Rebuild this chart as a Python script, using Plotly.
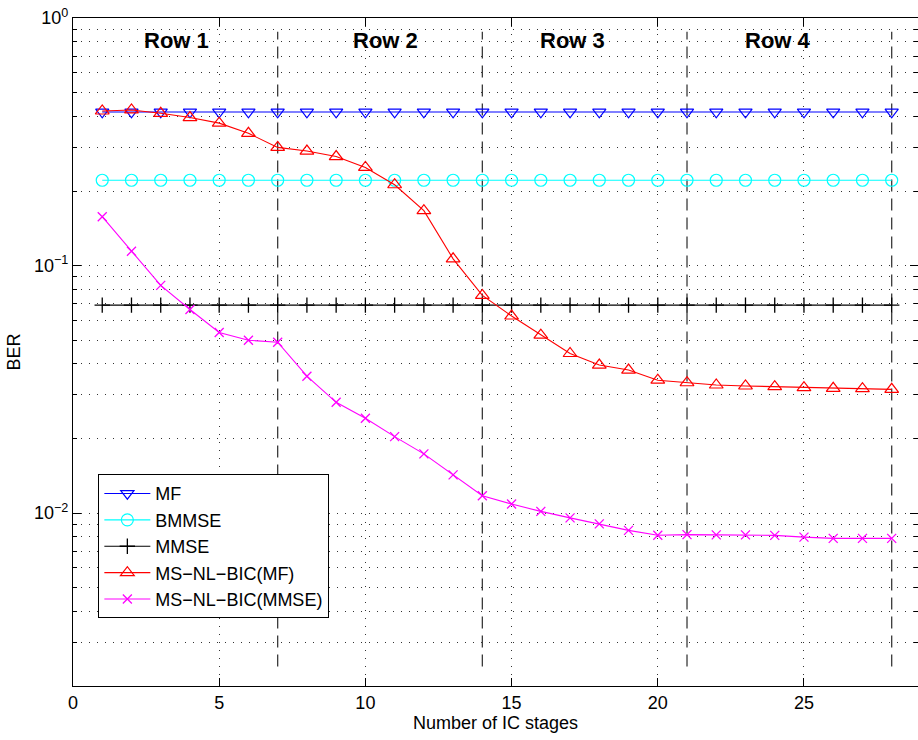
import math
import plotly.graph_objects as go

# ---------------- data ----------------
stages = [1, 2, 3, 4, 5, 6, 7, 8, 9, 10, 11, 12, 13, 14,
          15, 16, 17, 18, 19, 20, 21, 22, 23, 24, 25, 26, 27, 28]

ber_mf = [0.417, 0.417, 0.417, 0.417, 0.417, 0.417, 0.417, 0.417, 0.417, 0.417,
          0.417, 0.417, 0.417, 0.417, 0.417, 0.417, 0.417, 0.417, 0.417, 0.417,
          0.417, 0.417, 0.417, 0.417, 0.417, 0.417, 0.417, 0.417]

ber_bmmse = [0.221, 0.221, 0.221, 0.221, 0.221, 0.221, 0.221, 0.221, 0.221, 0.221,
             0.221, 0.221, 0.221, 0.221, 0.221, 0.221, 0.221, 0.221, 0.221, 0.221,
             0.221, 0.221, 0.221, 0.221, 0.221, 0.221, 0.221, 0.221]

ber_mmse = [0.0692, 0.0692, 0.0692, 0.0692, 0.0692, 0.0692, 0.0692, 0.0692, 0.0692, 0.0692,
            0.0692, 0.0692, 0.0692, 0.0692, 0.0692, 0.0692, 0.0692, 0.0692, 0.0692, 0.0692,
            0.0692, 0.0692, 0.0692, 0.0692, 0.0692, 0.0692, 0.0692, 0.0692]

ber_msnl_mf = [0.421, 0.425, 0.412, 0.396, 0.376, 0.342, 0.300, 0.290, 0.2755, 0.249,
               0.212, 0.1665, 0.1064, 0.0757, 0.0625, 0.0523, 0.0441, 0.0396, 0.0378, 0.0344,
               0.0336, 0.0329, 0.0326, 0.0324, 0.0321, 0.0319, 0.0318, 0.0316]

ber_msnl_mmse = [0.1575, 0.1142, 0.0831, 0.0664, 0.0536, 0.0499, 0.0490, 0.0357, 0.0280, 0.02413,
                 0.02035, 0.01734, 0.01426, 0.01175, 0.01087, 0.01015, 0.00956, 0.00904, 0.00851, 0.00813,
                 0.00818, 0.00816, 0.00816, 0.00812, 0.00799, 0.0079, 0.0079, 0.0079]

row_boundaries = [7, 14, 21, 28]
boundary_span = [0.0024, 0.88]
row_labels = ["Row 1", "Row 2", "Row 3", "Row 4"]
row_label_x = [2.35, 9.5, 15.9, 22.9]

y_major = [1, 0.1, 0.01]
y_major_text = ["10<sup>0</sup>", "10<sup>\u22121</sup>", "10<sup>\u22122</sup>"]
y_minor = [m * d for d in (0.1, 0.01, 0.001) for m in (2, 3, 4, 5, 6, 7, 8, 9)
           if m * d >= 0.002]

x_ticks = [0, 5, 10, 15, 20, 25]

FONT = "Liberation Sans, Arial, Helvetica, sans-serif"
GRID_DASH = "1px,7px"
GRID_COLOR = "#333333"

fig = go.Figure()

# row boundary dashed lines
for xb in row_boundaries:
    fig.add_trace(go.Scatter(
        x=[xb, xb], y=boundary_span, mode="lines",
        line=dict(color="#3a3a3a", width=1.3, dash="12px,7px"),
        showlegend=False, hoverinfo="skip"))

series = [
    ("MF", ber_mf, "#0000FF", "triangle-down-open", 11.5, 1.2),
    ("BMMSE", ber_bmmse, "#00FFFF", "circle-open", 12, 1.2),
    ("MMSE", ber_mmse, "#000000", "cross-thin-open", 11, 1.3),
    ("MS\u2212NL\u2212BIC(MF)", ber_msnl_mf, "#FF0000", "triangle-up-open", 12, 1.2),
    ("MS\u2212NL\u2212BIC(MMSE)", ber_msnl_mmse, "#FF00FF", "x-thin-open", 9, 1.3),
]
for name, vals, col, sym, sz, lw in series:
    fig.add_trace(go.Scatter(
        x=stages, y=vals, name=name, mode="lines+markers",
        line=dict(color=col, width=1.1),
        marker=dict(symbol=sym, size=sz, color=col, line=dict(color=col, width=lw)),
    ))

for lab, xl in zip(row_labels, row_label_x):
    fig.add_annotation(x=xl, y=0.967, xref="x", yref="paper", text="<b>%s</b>" % lab,
                       showarrow=False, xanchor="left", yanchor="middle",
                       font=dict(family=FONT, size=22, color="black"))

fig.update_layout(
    width=918, height=740,
    margin=dict(l=73, r=0, t=18, b=54),
    paper_bgcolor="white", plot_bgcolor="white",
    font=dict(family=FONT, size=18, color="black"),
    showlegend=True,
    legend=dict(x=0.03, y=0.317, xanchor="left", yanchor="top",
                bgcolor="white", bordercolor="black", borderwidth=1,
                font=dict(family=FONT, size=18, color="black"),
                tracegroupgap=0, itemwidth=46),
)

fig.update_xaxes(
    range=[0, 28.9], tickmode="array", tickvals=x_ticks,
    ticks="inside", ticklen=8, tickcolor="black", tickwidth=1,
    showline=True, linecolor="black", linewidth=1.2, mirror="ticks",
    showgrid=True, gridcolor=GRID_COLOR, griddash=GRID_DASH, gridwidth=1,
    zeroline=False,
    title=dict(text="Number of IC stages", font=dict(size=18), standoff=4),
    tickfont=dict(size=18),
)

fig.update_yaxes(
    type="log", range=[math.log10(0.002), 0],
    tickmode="array", tickvals=y_major, ticktext=y_major_text,
    ticks="inside", ticklen=8, tickcolor="black", tickwidth=1,
    showline=True, linecolor="black", linewidth=1.2, mirror="ticks",
    showgrid=True, gridcolor=GRID_COLOR, griddash=GRID_DASH, gridwidth=1,
    zeroline=False,
    minor=dict(tickmode="array", tickvals=y_minor, ticks="inside", ticklen=4,
               tickcolor="black", showgrid=True, gridcolor=GRID_COLOR,
               griddash=GRID_DASH, gridwidth=1),
    title=dict(text="BER", font=dict(size=18), standoff=8),
    tickfont=dict(size=18),
)

fig.write_html("out.html")
